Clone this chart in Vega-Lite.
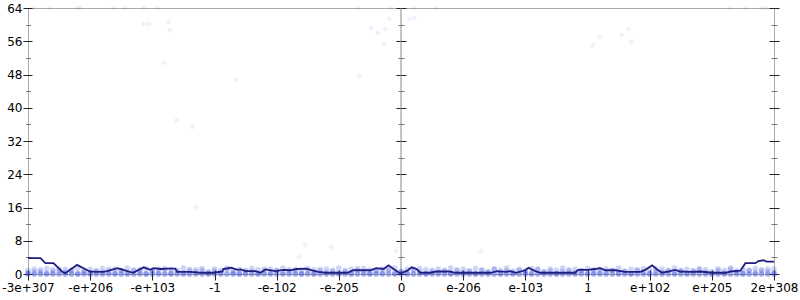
{
  "$schema": "https://vega.github.io/schema/vega-lite/v6.json",
  "width": 746,
  "height": 266,
  "autosize": "none",
  "padding": {"left": 28, "top": 8, "right": 26, "bottom": 26},
  "background": "white",
  "config": {
    "view": {"stroke": "#aaa", "strokeWidth": 1},
    "axis": {"labelFont": "DejaVu Sans", "labelFontSize": 12, "labelColor": "#000", "tickWidth": 1, "grid": false, "domain": false, "title": null}
  },
  "datasets": {
    "zero": [{"x": 0}],
    "band": [
      {"x": -6.0, "a": 0, "b": 0.9, "c": 0.3}, {"x": -5.9, "a": 0, "b": 1.2, "c": 0.5}, {"x": -5.8, "a": 0, "b": 0.6, "c": 1.0}, {"x": -5.7, "a": 0, "b": 1.3, "c": 0.2}, {"x": -5.6, "a": 0, "b": 1.0, "c": 0.6},
      {"x": -5.5, "a": 0, "b": 0.7, "c": 1.2}, {"x": -5.4, "a": 0, "b": 1.1, "c": 0.4}, {"x": -5.3, "a": 0, "b": 0.8, "c": 0.9}, {"x": -5.2, "a": 0, "b": 1.4, "c": 0.1}, {"x": -5.1, "a": 0, "b": 0.6, "c": 0.7},
      {"x": -5.0, "a": 0, "b": 1.1, "c": 0.2}, {"x": -4.9, "a": 0, "b": 0.8, "c": 0.6}, {"x": -4.8, "a": 0, "b": 1.3, "c": 0.4}, {"x": -4.7, "a": 0, "b": 0.5, "c": 1.1}, {"x": -4.6, "a": 0, "b": 1.2, "c": 0.3},
      {"x": -4.5, "a": 0, "b": 0.9, "c": 0.8}, {"x": -4.4, "a": 0, "b": 1.4, "c": 0.2}, {"x": -4.3, "a": 0, "b": 0.7, "c": 1.0}, {"x": -4.2, "a": 0, "b": 1.0, "c": 0.5}, {"x": -4.1, "a": 0, "b": 1.3, "c": 0.1},
      {"x": -4.0, "a": 0, "b": 0.6, "c": 0.9}, {"x": -3.9, "a": 0, "b": 1.2, "c": 0.4}, {"x": -3.8, "a": 0, "b": 0.8, "c": 1.3}, {"x": -3.7, "a": 0, "b": 1.1, "c": 0.2}, {"x": -3.6, "a": 0, "b": 0.9, "c": 0.6},
      {"x": -3.5, "a": 0, "b": 1.4, "c": 0.3}, {"x": -3.4, "a": 0, "b": 0.7, "c": 1.1}, {"x": -3.3, "a": 0, "b": 1.0, "c": 0.5}, {"x": -3.2, "a": 0, "b": 1.3, "c": 0.8}, {"x": -3.1, "a": 0, "b": 0.6, "c": 0.2},
      {"x": -3.0, "a": 0, "b": 1.2, "c": 0.7}, {"x": -2.9, "a": 0, "b": 0.9, "c": 0.3}, {"x": -2.8, "a": 0, "b": 1.4, "c": 1.0}, {"x": -2.7, "a": 0, "b": 0.8, "c": 0.4}, {"x": -2.6, "a": 0, "b": 1.1, "c": 0.1},
      {"x": -2.5, "a": 0, "b": 0.5, "c": 0.9}, {"x": -2.4, "a": 0, "b": 1.3, "c": 0.6}, {"x": -2.3, "a": 0, "b": 1.0, "c": 0.2}, {"x": -2.2, "a": 0, "b": 0.7, "c": 1.2}, {"x": -2.1, "a": 0, "b": 1.2, "c": 0.4},
      {"x": -2.0, "a": 0, "b": 0.9, "c": 0.8}, {"x": -1.9, "a": 0, "b": 1.4, "c": 0.3}, {"x": -1.8, "a": 0, "b": 0.6, "c": 1.0}, {"x": -1.7, "a": 0, "b": 1.1, "c": 0.5}, {"x": -1.6, "a": 0, "b": 0.8, "c": 0.1},
      {"x": -1.5, "a": 0, "b": 1.3, "c": 0.7}, {"x": -1.4, "a": 0, "b": 1.0, "c": 0.2}, {"x": -1.3, "a": 0, "b": 0.7, "c": 1.1}, {"x": -1.2, "a": 0, "b": 1.2, "c": 0.4}, {"x": -1.1, "a": 0, "b": 0.9, "c": 0.6},
      {"x": -1.0, "a": 0, "b": 1.4, "c": 0.3}, {"x": -0.9, "a": 0, "b": 0.6, "c": 0.9}, {"x": -0.8, "a": 0, "b": 1.1, "c": 0.2}, {"x": -0.7, "a": 0, "b": 0.8, "c": 1.3}, {"x": -0.6, "a": 0, "b": 1.3, "c": 0.5},
      {"x": -0.5, "a": 0, "b": 1.0, "c": 0.1}, {"x": -0.4, "a": 0, "b": 0.7, "c": 0.8}, {"x": -0.3, "a": 0, "b": 1.2, "c": 0.4}, {"x": -0.2, "a": 0, "b": 0.9, "c": 1.0}, {"x": -0.1, "a": 0, "b": 1.4, "c": 0.2},
      {"x": 0.0, "a": 0, "b": 0.6, "c": 0.6}, {"x": 0.1, "a": 0, "b": 1.1, "c": 0.3}, {"x": 0.2, "a": 0, "b": 0.8, "c": 1.2}, {"x": 0.3, "a": 0, "b": 1.3, "c": 0.5}, {"x": 0.4, "a": 0, "b": 1.0, "c": 0.1},
      {"x": 0.5, "a": 0, "b": 0.5, "c": 0.9}, {"x": 0.6, "a": 0, "b": 1.2, "c": 0.4}, {"x": 0.7, "a": 0, "b": 0.9, "c": 0.7}, {"x": 0.8, "a": 0, "b": 1.4, "c": 0.2}, {"x": 0.9, "a": 0, "b": 0.7, "c": 1.0},
      {"x": 1.0, "a": 0, "b": 1.1, "c": 0.3}, {"x": 1.1, "a": 0, "b": 0.8, "c": 0.6}, {"x": 1.2, "a": 0, "b": 1.3, "c": 0.1}, {"x": 1.3, "a": 0, "b": 1.0, "c": 0.8}, {"x": 1.4, "a": 0, "b": 0.6, "c": 0.4},
      {"x": 1.5, "a": 0, "b": 1.2, "c": 1.1}, {"x": 1.6, "a": 0, "b": 0.9, "c": 0.2}, {"x": 1.7, "a": 0, "b": 1.4, "c": 0.7}, {"x": 1.8, "a": 0, "b": 0.7, "c": 0.3}, {"x": 1.9, "a": 0, "b": 1.1, "c": 0.9},
      {"x": 2.0, "a": 0, "b": 0.8, "c": 0.5}, {"x": 2.1, "a": 0, "b": 1.3, "c": 0.2}, {"x": 2.2, "a": 0, "b": 1.0, "c": 1.2}, {"x": 2.3, "a": 0, "b": 0.6, "c": 0.4}, {"x": 2.4, "a": 0, "b": 1.2, "c": 0.7},
      {"x": 2.5, "a": 0, "b": 0.9, "c": 0.1}, {"x": 2.6, "a": 0, "b": 1.4, "c": 0.6}, {"x": 2.7, "a": 0, "b": 0.7, "c": 1.0}, {"x": 2.8, "a": 0, "b": 1.1, "c": 0.3}, {"x": 2.9, "a": 0, "b": 0.8, "c": 0.8},
      {"x": 3.0, "a": 0, "b": 1.3, "c": 0.2}, {"x": 3.1, "a": 0, "b": 1.0, "c": 0.5}, {"x": 3.2, "a": 0, "b": 0.5, "c": 1.1}, {"x": 3.3, "a": 0, "b": 1.2, "c": 0.4}, {"x": 3.4, "a": 0, "b": 0.9, "c": 0.9},
      {"x": 3.5, "a": 0, "b": 1.4, "c": 0.3}, {"x": 3.6, "a": 0, "b": 0.7, "c": 0.6}, {"x": 3.7, "a": 0, "b": 1.1, "c": 0.1}, {"x": 3.8, "a": 0, "b": 0.8, "c": 1.0}, {"x": 3.9, "a": 0, "b": 1.3, "c": 0.5},
      {"x": 4.0, "a": 0, "b": 1.0, "c": 0.2}, {"x": 4.1, "a": 0, "b": 0.6, "c": 1.2}, {"x": 4.2, "a": 0, "b": 1.2, "c": 0.4}, {"x": 4.3, "a": 0, "b": 0.9, "c": 0.7}, {"x": 4.4, "a": 0, "b": 1.4, "c": 0.3},
      {"x": 4.5, "a": 0, "b": 0.7, "c": 0.9}, {"x": 4.6, "a": 0, "b": 1.1, "c": 0.2}, {"x": 4.7, "a": 0, "b": 0.8, "c": 0.6}, {"x": 4.8, "a": 0, "b": 1.3, "c": 1.0}, {"x": 4.9, "a": 0, "b": 1.0, "c": 0.4},
      {"x": 5.0, "a": 0, "b": 0.6, "c": 0.1}, {"x": 5.1, "a": 0, "b": 1.2, "c": 0.8}, {"x": 5.2, "a": 0, "b": 0.9, "c": 0.3}, {"x": 5.3, "a": 0, "b": 1.4, "c": 1.1}, {"x": 5.4, "a": 0, "b": 0.7, "c": 0.5},
      {"x": 5.5, "a": 0, "b": 1.1, "c": 0.2}, {"x": 5.6, "a": 0, "b": 0.8, "c": 0.9}, {"x": 5.7, "a": 0, "b": 1.3, "c": 0.4}, {"x": 5.8, "a": 0, "b": 1.0, "c": 0.7}, {"x": 5.9, "a": 0, "b": 0.6, "c": 1.2},
      {"x": 6.0, "a": 0, "b": 1.2, "c": 0.3}
    ],
    "scatter": [
      {"x": -5.91, "y": 64}, {"x": -5.66, "y": 64}, {"x": -5.21, "y": 64}, {"x": -5.16, "y": 64}, {"x": -4.63, "y": 64}, {"x": -4.44, "y": 64}, {"x": -4.14, "y": 64}, {"x": -3.92, "y": 64},
      {"x": -0.70, "y": 64}, {"x": -0.16, "y": 64}, {"x": 0.20, "y": 64}, {"x": 0.57, "y": 64}, {"x": 5.30, "y": 64}, {"x": 5.54, "y": 64}, {"x": 5.79, "y": 64}, {"x": 5.86, "y": 64},
      {"x": -4.14, "y": 60.1}, {"x": -4.06, "y": 60.1}, {"x": -3.74, "y": 60.6}, {"x": -3.72, "y": 58.7}, {"x": -3.82, "y": 50.8},
      {"x": -0.48, "y": 59.2}, {"x": -0.38, "y": 58}, {"x": -0.25, "y": 59}, {"x": -0.19, "y": 61.4}, {"x": 0.13, "y": 61.4}, {"x": 0.21, "y": 61.6}, {"x": -0.27, "y": 55.3}, {"x": -0.67, "y": 47.6},
      {"x": -3.61, "y": 37}, {"x": -3.35, "y": 35.4}, {"x": -3.29, "y": 16.1}, {"x": -2.66, "y": 46.7},
      {"x": -1.55, "y": 7.0}, {"x": -1.12, "y": 6.5}, {"x": -1.64, "y": 4.1}, {"x": -0.08, "y": 5.5}, {"x": 1.28, "y": 5.5},
      {"x": 3.08, "y": 55}, {"x": 3.20, "y": 57}, {"x": 3.55, "y": 57.5}, {"x": 3.66, "y": 59}, {"x": 3.70, "y": 56}
    ],
    "line": [
      {"x": -6.0, "y": 3.8}, {"x": -5.80, "y": 3.8}, {"x": -5.72, "y": 2.6}, {"x": -5.59, "y": 2.6}, {"x": -5.45, "y": 0.55}, {"x": -5.40, "y": 0.2},
      {"x": -5.21, "y": 2.2}, {"x": -5.00, "y": 0.55}, {"x": -4.79, "y": 0.5}, {"x": -4.73, "y": 0.7}, {"x": -4.56, "y": 1.4}, {"x": -4.47, "y": 1.0},
      {"x": -4.31, "y": 0.3}, {"x": -4.14, "y": 1.6}, {"x": -4.03, "y": 1.0}, {"x": -3.98, "y": 1.4}, {"x": -3.87, "y": 1.2}, {"x": -3.76, "y": 1.3},
      {"x": -3.63, "y": 1.3}, {"x": -3.60, "y": 0.5}, {"x": -3.39, "y": 0.5}, {"x": -3.23, "y": 0.3}, {"x": -3.02, "y": 0.3}, {"x": -2.87, "y": 0.6},
      {"x": -2.86, "y": 1.2}, {"x": -2.73, "y": 1.5}, {"x": -2.63, "y": 1.0}, {"x": -2.58, "y": 1.1}, {"x": -2.50, "y": 0.7}, {"x": -2.34, "y": 0.7},
      {"x": -2.26, "y": 0.3}, {"x": -2.18, "y": 1.1}, {"x": -2.02, "y": 0.7}, {"x": -1.89, "y": 1.0}, {"x": -1.78, "y": 0.9}, {"x": -1.68, "y": 1.2},
      {"x": -1.52, "y": 1.3}, {"x": -1.46, "y": 1.0}, {"x": -1.33, "y": 0.5}, {"x": -1.22, "y": 0.3}, {"x": -0.86, "y": 0.3}, {"x": -0.77, "y": 0.9},
      {"x": -0.49, "y": 0.9}, {"x": -0.40, "y": 1.4}, {"x": -0.28, "y": 1.2}, {"x": -0.20, "y": 2.1}, {"x": -0.12, "y": 1.2}, {"x": -0.01, "y": 0.1},
      {"x": 0.10, "y": 0.8}, {"x": 0.17, "y": 1.6}, {"x": 0.25, "y": 1.2}, {"x": 0.31, "y": 0.3}, {"x": 0.47, "y": 0.3}, {"x": 0.57, "y": 0.6},
      {"x": 0.79, "y": 0.6}, {"x": 0.87, "y": 0.3}, {"x": 1.44, "y": 0.3}, {"x": 1.55, "y": 0.7}, {"x": 1.68, "y": 0.5}, {"x": 1.76, "y": 0.7},
      {"x": 1.85, "y": 0.3}, {"x": 2.00, "y": 0.9}, {"x": 2.05, "y": 1.5}, {"x": 2.16, "y": 0.7}, {"x": 2.24, "y": 0.3}, {"x": 2.80, "y": 0.3},
      {"x": 2.85, "y": 1.0}, {"x": 3.01, "y": 1.0}, {"x": 3.12, "y": 1.2}, {"x": 3.20, "y": 1.4}, {"x": 3.29, "y": 0.9}, {"x": 3.45, "y": 0.9},
      {"x": 3.61, "y": 0.5}, {"x": 3.85, "y": 0.5}, {"x": 3.93, "y": 1.0}, {"x": 4.04, "y": 2.1}, {"x": 4.12, "y": 1.1}, {"x": 4.20, "y": 0.3},
      {"x": 4.33, "y": 0.7}, {"x": 4.41, "y": 1.0}, {"x": 4.49, "y": 0.6}, {"x": 4.65, "y": 0.5}, {"x": 4.81, "y": 0.6}, {"x": 5.01, "y": 0.3},
      {"x": 5.22, "y": 0.3}, {"x": 5.30, "y": 0.6}, {"x": 5.46, "y": 0.8}, {"x": 5.54, "y": 2.6}, {"x": 5.70, "y": 2.6}, {"x": 5.75, "y": 3.1},
      {"x": 5.83, "y": 3.3}, {"x": 5.88, "y": 3.0}, {"x": 6.0, "y": 3.0}
    ]
  },
  "resolve": {"axis": {"x": "independent", "y": "independent"}},
  "layer": [
    {
      "data": {"name": "zero"},
      "mark": {"type": "rule", "color": "#888", "strokeWidth": 1},
      "encoding": {
        "x": {"field": "x", "type": "quantitative", "scale": {"domain": [-6, 6], "nice": false, "zero": false}, "axis": null}
      }
    },
    {
      "data": {"name": "band"},
      "transform": [{"fold": ["a", "b", "c", "a"], "as": ["k", "y"]}],
      "mark": {"type": "circle", "color": "#2a3fd6", "opacity": 0.22, "size": 32},
      "encoding": {
        "x": {"field": "x", "type": "quantitative", "scale": {"domain": [-6, 6], "nice": false, "zero": false},
          "axis": {"orient": "bottom", "values": [-6, -5, -4, -3, -2, -1, 0, 1, 2, 3, 4, 5, 6], "offset": -4, "tickSize": 10, "labelPadding": 2, "tickColor": "#222", "labelFlush": false, "labelOverlap": false, "labelBound": false,
            "labelExpr": "datum.value == -6 ? '-3e+307' : datum.value == -5 ? '-e+206' : datum.value == -4 ? '-e+103' : datum.value == -3 ? '-1' : datum.value == -2 ? '-e-102' : datum.value == -1 ? '-e-205' : datum.value == 0 ? '0' : datum.value == 1 ? 'e-206' : datum.value == 2 ? 'e-103' : datum.value == 3 ? '1' : datum.value == 4 ? 'e+102' : datum.value == 5 ? 'e+205' : '2e+308'"}},
        "y": {"field": "y", "type": "quantitative", "scale": {"domain": [0, 64], "nice": false},
          "axis": {"orient": "left", "values": [0, 8, 16, 24, 32, 40, 48, 56, 64], "offset": -4, "tickSize": 9, "labelPadding": 1, "tickColor": "#222", "format": "d", "labelFlush": false, "labelOverlap": false, "labelBound": false}}
      }
    },
    {
      "data": {"name": "scatter"},
      "mark": {"type": "circle", "color": "#2a3fd6", "opacity": 0.07, "size": 22},
      "encoding": {
        "x": {"field": "x", "type": "quantitative", "scale": {"domain": [-6, 6], "nice": false, "zero": false}, "axis": null},
        "y": {"field": "y", "type": "quantitative", "scale": {"domain": [0, 64], "nice": false},
          "axis": {"orient": "left", "values": [4, 12, 20, 28, 36, 44, 52, 60], "offset": -2.5, "tickSize": 5, "labels": false, "tickColor": "#777"}}
      }
    },
    {
      "data": {"name": "line"},
      "mark": {"type": "line", "color": "#1e1e80", "strokeWidth": 1.8},
      "encoding": {
        "x": {"field": "x", "type": "quantitative", "scale": {"domain": [-6, 6], "nice": false, "zero": false}, "axis": null},
        "y": {"field": "y", "type": "quantitative", "scale": {"domain": [0, 64], "nice": false},
          "axis": {"orient": "left", "values": [0, 8, 16, 24, 32, 40, 48, 56, 64], "offset": -378, "tickSize": 10, "labels": false, "tickColor": "#222"}}
      }
    },
    {
      "data": {"name": "scatter"},
      "mark": {"type": "point", "opacity": 0},
      "encoding": {
        "x": {"field": "x", "type": "quantitative", "scale": {"domain": [-6, 6], "nice": false, "zero": false}, "axis": null},
        "y": {"field": "y", "type": "quantitative", "scale": {"domain": [0, 64], "nice": false},
          "axis": {"orient": "left", "values": [4, 12, 20, 28, 36, 44, 52, 60], "offset": -376, "tickSize": 6, "labels": false, "tickColor": "#777"}}
      }
    },
    {
      "data": {"name": "scatter"},
      "mark": {"type": "point", "opacity": 0},
      "encoding": {
        "x": {"field": "x", "type": "quantitative", "scale": {"domain": [-6, 6], "nice": false, "zero": false}, "axis": null},
        "y": {"field": "y", "type": "quantitative", "scale": {"domain": [0, 64], "nice": false},
          "axis": {"orient": "right", "values": [0, 8, 16, 24, 32, 40, 48, 56, 64], "offset": -5, "tickSize": 10, "labels": false, "tickColor": "#222"}}
      }
    },
    {
      "data": {"name": "scatter"},
      "mark": {"type": "point", "opacity": 0},
      "encoding": {
        "x": {"field": "x", "type": "quantitative", "scale": {"domain": [-6, 6], "nice": false, "zero": false}, "axis": null},
        "y": {"field": "y", "type": "quantitative", "scale": {"domain": [0, 64], "nice": false},
          "axis": {"orient": "right", "values": [4, 12, 20, 28, 36, 44, 52, 60], "offset": -3, "tickSize": 6, "labels": false, "tickColor": "#777"}}
      }
    }
  ]
}
